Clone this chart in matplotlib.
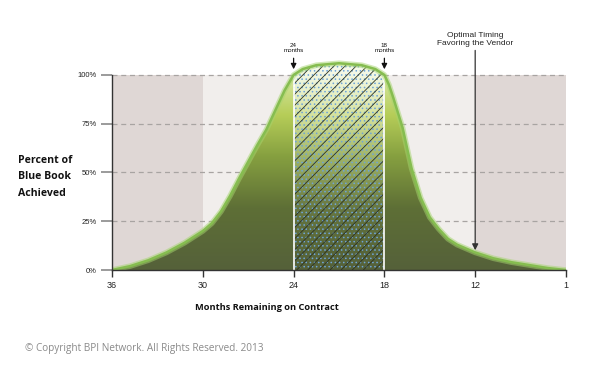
import matplotlib
matplotlib.use('Agg')

import numpy as np
import matplotlib.pyplot as plt
from matplotlib.colors import LinearSegmentedColormap

# tick labels (months remaining), drawn at equal spacing
month_labels = ['36', '30', '24', '18', '12', '1']
y_ticks = [0, 0.25, 0.5, 0.75, 1.0]
y_tick_labels = ['0%', '25%', '50%', '75%', '100%']

# curve: position along the axis (0 = 36 months, 5 = 1 month)
curve_x = [0, 0.2, 0.4, 0.6, 0.8, 1.0, 1.1, 1.2, 1.3, 1.4, 1.5, 1.6, 1.7, 1.8, 1.9,
           2.0, 2.1, 2.25, 2.5, 2.75, 2.9, 3.0, 3.05, 3.1, 3.2, 3.3, 3.4, 3.5, 3.6,
           3.7, 3.8, 3.9, 4.0, 4.2, 4.4, 4.6, 4.8, 5.0]
curve_y = [0, 0.02, 0.05, 0.09, 0.14, 0.20, 0.24, 0.30, 0.38, 0.47, 0.555, 0.64, 0.72,
           0.82, 0.92, 1.0, 1.03, 1.05, 1.06, 1.05, 1.03, 1.0, 0.95, 0.88, 0.73,
           0.52, 0.37, 0.27, 0.21, 0.16, 0.13, 0.11, 0.09, 0.06, 0.04, 0.025, 0.01, 0]

plt.rcParams['font.family'] = ['Liberation Sans', 'DejaVu Sans']
plt.rcParams['hatch.linewidth'] = 0.6

fig = plt.figure(figsize=(6, 3.76), dpi=100)
ax = fig.add_axes([0.1867, 0.2819, 0.7566, 0.581])
ax.set_xlim(0, 5)
ax.set_ylim(0, 1.12)

# background bands
ax.axvspan(0, 1, ymax=1.0 / 1.12, color='#dfd7d5', lw=0, zorder=0)
ax.axvspan(1, 4, ymax=1.0 / 1.12, color='#f1eeec', lw=0, zorder=0)
ax.axvspan(4, 5, ymax=1.0 / 1.12, color='#dfd7d5', lw=0, zorder=0)

for yv in y_ticks[1:]:
    ax.axhline(yv, color='#a8a4a2', lw=0.9, ls=(0, (4, 3)), zorder=1)

# gradient fill under the curve
poly = ax.fill_between(curve_x, curve_y, 0, color='none', lw=0, zorder=2)
cmap = LinearSegmentedColormap.from_list(
    'olive', [(0, '#55613a'), (0.3, '#5e6f36'), (0.55, '#86a040'),
              (0.75, '#b6cd58'), (0.92, '#d3e49c'), (1, '#e6f0c8')])
grad = np.linspace(0, 1, 256).reshape(-1, 1)
im = ax.imshow(grad, cmap=cmap, origin='lower', aspect='auto',
               extent=[0, 5, 0, 1.06], zorder=2)
im.set_clip_path(poly.get_paths()[0], transform=ax.transData)

# hatched window between 24 and 18 months
mask_x = [x for x in curve_x if 2 <= x <= 3]
mask_y = [y for x, y in zip(curve_x, curve_y) if 2 <= x <= 3]
win = ax.fill_between(mask_x, mask_y, 0, color='none', lw=0, zorder=3)
white = np.ones((256, 1, 4))
white[:, 0, 3] = np.linspace(0, 1, 256) ** 2 * 0.75
wim = ax.imshow(white, origin='lower', aspect='auto', extent=[2, 3, 0, 1.06], zorder=3)
wim.set_clip_path(win.get_paths()[0], transform=ax.transData)
ax.fill_between(mask_x, mask_y, 0, facecolor='none', edgecolor='#6fa4d8',
                hatch='....', lw=0, zorder=3)
ax.fill_between(mask_x, mask_y, 0, facecolor='none', edgecolor='#2d3320',
                hatch='///', lw=0, zorder=3)
ax.vlines([2, 3], 0, [1.0, 1.0], color='white', lw=1.2, zorder=4)

# curve edge
ax.plot(curve_x, curve_y, color='#a5d46e', lw=4, alpha=0.5, zorder=5,
        solid_capstyle='round')
ax.plot(curve_x, curve_y, color='#86bd50', lw=1.8, zorder=5)

# axes styling
for side in ['top', 'right']:
    ax.spines[side].set_visible(False)
ax.spines['left'].set_bounds(0, 1)
for side in ['left', 'bottom']:
    ax.spines[side].set_color('#333333')
    ax.spines[side].set_linewidth(1.0)
    ax.spines[side].set_zorder(6)

ax.set_xticks(range(len(month_labels)))
ax.set_xticklabels(month_labels, fontsize=6.5, color='#222222')
ax.set_yticks(y_ticks)
ax.set_yticklabels(y_tick_labels, fontsize=5.5, color='#222222')
ax.tick_params(axis='x', length=5, width=1, color='#333333', pad=3)
ax.tick_params(axis='y', length=8, width=1.2, color='#8a8a8a', pad=3)

# annotations
for xp, lab in [(2, '24\nmonths'), (3, '18\nmonths')]:
    ax.annotate('', xy=(xp, 1.015), xytext=(xp, 1.10),
                arrowprops=dict(arrowstyle='-|>', color='#111111', lw=0.9,
                                mutation_scale=8), annotation_clip=False)
    ax.text(xp, 1.115, lab, ha='center', va='bottom', fontsize=4.5,
            linespacing=0.9, color='#111111', clip_on=False)

ax.annotate('', xy=(4, 0.087), xytext=(4, 1.14),
            arrowprops=dict(arrowstyle='-|>', color='#333333', lw=0.9,
                            mutation_scale=9), annotation_clip=False)
ax.text(4, 1.145, 'Optimal Timing\nFavoring the Vendor', ha='center', va='bottom',
        fontsize=6, linespacing=1.1, color='#222222', clip_on=False)

fig.text(0.03, 0.53, 'Percent of\nBlue Book\nAchieved', ha='left', va='center',
         fontsize=7.6, fontweight='bold', linespacing=1.7, family='Open Sans',
         color='#111111')
fig.text(0.445, 0.183, 'Months Remaining on Contract', ha='center', va='center',
         fontsize=6.7, fontweight='bold', family='Open Sans', color='#111111')
fig.text(0.042, 0.074, '\u00a9 Copyright BPI Network. All Rights Reserved. 2013',
         ha='left', va='center', fontsize=7.2, color='#8a8a8a', family='Open Sans')

fig.savefig('out.png', dpi=100)
plt.close(fig)
